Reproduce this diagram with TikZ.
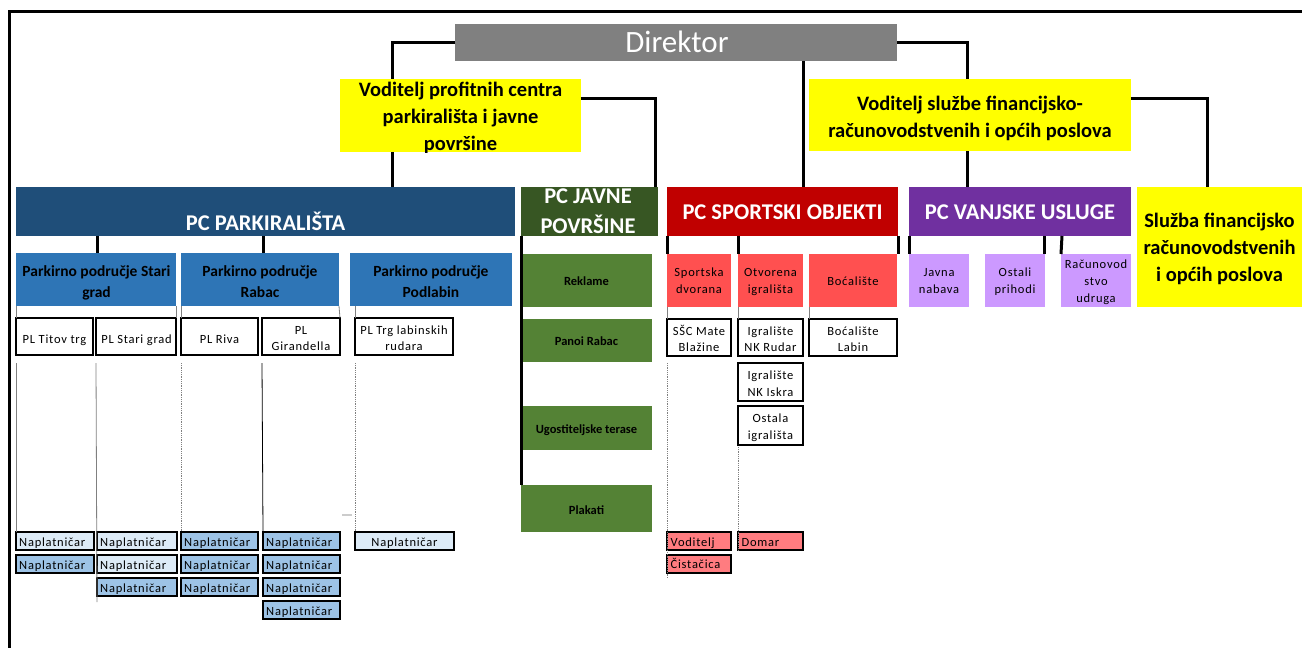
\documentclass[tikz,border=0pt]{standalone}
\usepackage{fontspec}
\setmainfont{Carlito}
\newfontfamily\lsfont[LetterSpace=6]{Carlito}
\definecolor{dirgray}{HTML}{808080}
\definecolor{yel}{HTML}{FFFF00}
\definecolor{pcblue}{HTML}{1F4E79}
\definecolor{ppblue}{HTML}{2E75B6}
\definecolor{pcgreen}{HTML}{375623}
\definecolor{ltgreen}{HTML}{548235}
\definecolor{pcred}{HTML}{C00000}
\definecolor{sred}{HTML}{FF5050}
\definecolor{lred}{HTML}{FF7C80}
\definecolor{pcpurp}{HTML}{7030A0}
\definecolor{lpurp}{HTML}{CC99FF}
\definecolor{nlight}{HTML}{DDEBF7}
\definecolor{ndark}{HTML}{9DC3E6}
\newcommand\fs[2]{\fontsize{#1}{#2}\selectfont}
\newcommand\bx[6]{\node[boxbase,#2,minimum width={#5-#3},minimum height={#6-#4}] (#1) at (#3,#4) {};}
\newcommand\tx[5][]{\node[txtbase,#1] (#2) at (#3,#4) {#5};}
\newcommand\nap[6]{\bx{#1}{nbox,#2}{#3}{#4}{#5}{#6}\node[naptxt] (#1t) at (#3+3,#4+14.5) {Naplatničar};}
\begin{document}
\begin{tikzpicture}[x=1pt,y=-1pt,
  boxbase/.style={anchor=north west,inner sep=0pt,outer sep=0pt},
  txtbase/.style={anchor=base,inner sep=0pt},
  wbox/.style={fill=white,draw=black,line width=2.2pt},
  nbox/.style={draw=black,line width=1.8pt},
  conn/.style={line width=3pt},
  thinl/.style={line width=0.8pt,gray},
  dotl/.style={line width=0.8pt,gray,densely dotted},
  dirtxt/.style={font=\fs{31}{36},text=white},
  ytxt/.style={font=\bfseries\fs{20.5}{27}},
  pctxt/.style={font=\bfseries\fs{22.5}{27},text=white},
  pptxt/.style={font=\bfseries\fs{15.5}{20}},
  smtxt/.style={font=\lsfont\fs{12.5}{15}},
  grtxt/.style={font=\bfseries\fs{12.5}{15}},
  naptxt/.style={anchor=base west,inner sep=0pt,font=\lsfont\fs{12.5}{15}}
]
\useasboundingbox (0,0) rectangle (1302,648);
\fill[white] (0,0) rectangle (1302,648);
% frame
\draw[line width=3pt] (9,648) -- (9,11) -- (1302,11);

% ---------- level 1/2 boxes
\bx{dir}{fill=dirgray}{455}{24}{897}{61}
\bx{vp}{fill=yel}{340}{79}{581}{152}
\bx{vs}{fill=yel}{809}{79}{1131}{151}
\bx{pcp}{fill=pcblue}{16}{187}{515}{236}
\bx{pcj}{fill=pcgreen}{521}{187}{658}{236}
\bx{pcs}{fill=pcred}{667}{187}{898}{236}
\bx{pcv}{fill=pcpurp}{909}{187}{1131}{236}
\bx{sl}{fill=yel}{1137}{187}{1302}{307}

% ---------- connectors top
\draw[conn] (dir.west) -| (392,0 |- vp.north);
\draw[conn] (392,0 |- vp.south) -- (392,0 |- pcp.north);
\draw[conn] (vp.east |- 0,98) -| (655,0 |- pcj.north);
\draw[conn] (dir.east) -| (967,0 |- vs.north);
\draw[conn] (803,0 |- dir.south) -- (803,0 |- pcs.north);
\draw[conn] (967,0 |- vs.south) -- (967,0 |- pcv.north);
\draw[conn] (vs.east |- 0,98) -| (1207,0 |- sl.north);

% ---------- level 3 boxes
\bx{ps}{fill=ppblue}{16}{253}{176}{306}
\bx{pr}{fill=ppblue}{181}{253}{339}{306}
\bx{pd}{fill=ppblue}{350}{253}{512}{306}
\bx{rek}{fill=ltgreen}{521}{254}{652}{307}
\bx{pan}{fill=ltgreen}{521}{319}{652}{362}
\bx{ugo}{fill=ltgreen}{521}{406}{652}{450}
\bx{plak}{fill=ltgreen}{521}{485}{652}{532}
\bx{sd}{fill=sred}{667}{254}{731}{307}
\bx{oi}{fill=sred}{738}{254}{803}{307}
\bx{boc}{fill=sred}{809}{254}{897}{307}
\bx{jn}{fill=lpurp}{909}{254}{969}{307}
\bx{op}{fill=lpurp}{985}{254}{1045}{307}
\bx{rac}{fill=lpurp}{1061}{254}{1131}{307}

% connectors to level 3
\draw[conn] (97,0 |- pcp.south) -- (97,0 |- ps.north);
\draw[conn] (263,0 |- pcp.south) -- (263,0 |- pr.north);
\draw[conn] (pcj.south west) -- (plak.north west);
\draw[conn] (pcs.south west) -- (sd.north west);
\draw[conn] (738,0 |- pcs.south) -- (oi.north west);
\draw[conn] (pcs.south east) -- (898,0 |- boc.north);
\draw[conn] (pcv.south west) -- (jn.north west);
\draw[conn] (1044,0 |- pcv.south) -- (1044,0 |- op.north);
\draw[conn] (1062,0 |- pcv.south) -- (rac.north west);

% ---------- level 4 boxes
\bx{pltt}{wbox}{16}{318}{93}{355}
\bx{plsg}{wbox}{96}{318}{176}{355}
\bx{plr}{wbox}{181}{318}{258}{355}
\bx{plg}{wbox}{262}{318}{340}{355}
\bx{plt}{wbox}{355}{318}{453}{355}
\bx{ssc}{wbox}{667}{319}{731}{356}
\bx{rud}{wbox}{738}{319}{803}{356}
\bx{bl}{wbox}{809}{319}{897}{356}
\bx{isk}{wbox}{738}{363}{803}{401}
\bx{ost}{wbox}{738}{406}{803}{445}

% thin connectors level 3 -> 4
\draw[thinl] (ps.south west) -- (pltt.north west);
\draw[thinl] (ps.south east) -- (plsg.north east);
\draw[thinl] (pr.south west) -- (plr.north west);
\draw[thinl] (pr.south east) -- (plg.north east);
\draw[thinl] (355,0 |- pd.south) -- (plt.north west);
\draw[thinl] (sd.south west) -- (ssc.north west);
\draw[thinl] (oi.south west) -- (rud.north west);
\draw[thinl] (boc.south west) -- (bl.north west);

% ---------- Naplatničar boxes
\nap{n11}{fill=nlight}{16}{532}{94}{550}
\nap{n12}{fill=ndark}{16}{555}{94}{573}
\nap{n21}{fill=nlight}{97}{532}{177}{550}
\nap{n22}{fill=nlight}{97}{555}{177}{573}
\nap{n23}{fill=ndark}{97}{578}{177}{596}
\nap{n31}{fill=ndark}{181}{532}{258}{550}
\nap{n32}{fill=ndark}{181}{555}{258}{573}
\nap{n33}{fill=ndark}{181}{578}{258}{596}
\nap{n41}{fill=ndark}{263}{532}{340}{550}
\nap{n42}{fill=ndark}{263}{555}{340}{573}
\nap{n43}{fill=ndark}{263}{578}{340}{596}
\nap{n44}{fill=ndark}{263}{601}{340}{619}
\bx{n51}{nbox,fill=nlight}{355}{532}{454}{550}
\tx[smtxt]{n51t}{404.5}{546.5}{Naplatničar}
\bx{vod}{nbox,fill=lred}{667}{532}{731}{550}
\bx{cist}{nbox,fill=lred}{667}{555}{731}{573}
\bx{dom}{nbox,fill=lred}{738}{532}{803}{550}
\node[naptxt] (vodt) at (670.5,546.5) {Voditelj};
\node[naptxt] (cistt) at (670.5,568.5) {Čistačica};
\node[naptxt] (domt) at (741.5,546.5) {Domar};

% long thin lines
\draw[thinl] ([yshift=-8pt]pltt.south west) -- (n11.north west);
\draw[thinl] ([yshift=-8pt]plsg.south west) -- ([yshift=-6pt]n23.south west);
\draw[dotl] ([yshift=-8pt]plr.south west) -- (n31.north west);
\draw[line width=0.8pt] ([yshift=-8pt]plg.south west) -- (n41.north west);
\draw[dotl] ([yshift=-8pt]plt.south west) -- (n51.north west);
\draw[dotl] ([yshift=-7pt]ssc.south west) -- ([yshift=-5pt]cist.south west);
\draw[dotl] ([yshift=-2pt]ost.south west) -- (dom.south west);
\draw[line width=1.5pt,black!20] (342,515) -- (352,515);

% ---------- texts
\tx[dirtxt]{dirt}{677}{52}{Direktor}
\begin{scope}
\clip (vp.north west) rectangle (vp.south east);
\tx[ytxt]{vpt1}{460.5}{96}{Voditelj profitnih centra}
\tx[ytxt]{vpt2}{460.5}{123}{parkirališta i javne}
\tx[ytxt]{vpt3}{460.5}{150}{površine}
\end{scope}
\tx[ytxt]{vst1}{970}{110}{Voditelj službe financijsko-}
\tx[ytxt]{vst2}{970}{137}{računovodstvenih i općih poslova}
\tx[pctxt]{pcpt}{265.5}{230.5}{PC PARKIRALIŠTA}
\tx[pctxt]{pcjt1}{588}{203.5}{PC JAVNE}
\tx[pctxt]{pcjt2}{588}{233}{POVRŠINE}
\tx[pctxt]{pcst}{782.5}{219.3}{PC SPORTSKI OBJEKTI}
\tx[pctxt]{pcvt}{1020}{219.3}{PC VANJSKE USLUGE}
\tx[ytxt]{slt1}{1219.5}{227}{Služba financijsko}
\tx[ytxt]{slt2}{1219.5}{254}{računovodstvenih}
\tx[ytxt]{slt3}{1219.5}{281}{i općih poslova}
\tx[pptxt]{pst1}{96.5}{276}{Parkirno područje Stari}
\tx[pptxt]{pst2}{96.5}{297.7}{grad}
\tx[pptxt]{prt1}{260}{276}{Parkirno područje}
\tx[pptxt]{prt2}{260}{297.7}{Rabac}
\tx[pptxt]{pdt1}{431}{276}{Parkirno područje}
\tx[pptxt]{pdt2}{431}{297.7}{Podlabin}
\tx[grtxt]{rekt}{586.5}{285}{Reklame}
\tx[grtxt]{pant}{586.5}{345.7}{Panoi Rabac}
\tx[grtxt]{ugot}{586.5}{433.3}{Ugostiteljske terase}
\tx[grtxt]{plakt}{586.5}{514}{Plakati}
\tx[smtxt]{sdt1}{699}{276.7}{Sportska}
\tx[smtxt]{sdt2}{699}{293.3}{dvorana}
\tx[smtxt]{oit1}{770.5}{276.7}{Otvorena}
\tx[smtxt]{oit2}{770.5}{293.3}{igrališta}
\tx[smtxt]{boct}{853}{285}{Boćalište}
\tx[smtxt]{jnt1}{939}{276.7}{Javna}
\tx[smtxt]{jnt2}{939}{293.3}{nabava}
\tx[smtxt]{opt1}{1015}{276.7}{Ostali}
\tx[smtxt]{opt2}{1015}{293.3}{prihodi}
\tx[smtxt]{ract1}{1096}{268.3}{Računovod}
\tx[smtxt]{ract2}{1096}{285.5}{stvo}
\tx[smtxt]{ract3}{1096}{302.5}{udruga}
\tx[smtxt]{plttt}{54.5}{343.5}{PL Titov trg}
\tx[smtxt]{plsgt}{136.5}{343.5}{PL Stari grad}
\tx[smtxt]{plrt}{219.5}{343.5}{PL Riva}
\tx[smtxt]{plgt1}{301}{334}{PL}
\tx[smtxt]{plgt2}{301}{350.8}{Girandella}
\tx[smtxt]{pltt1}{404}{334}{PL Trg labinskih}
\tx[smtxt]{pltt2}{404}{350.5}{rudara}
\tx[smtxt]{ssct1}{699}{335}{SŠC Mate}
\tx[smtxt]{ssct2}{699}{351.7}{Blažine}
\tx[smtxt]{rudt1}{770.5}{335}{Igralište}
\tx[smtxt]{rudt2}{770.5}{351.7}{NK Rudar}
\tx[smtxt]{blt1}{853}{335}{Boćalište}
\tx[smtxt]{blt2}{853}{351.7}{Labin}
\tx[smtxt]{iskt1}{770.5}{379.3}{Igralište}
\tx[smtxt]{iskt2}{770.5}{396}{NK Iskra}
\tx[smtxt]{ostt1}{770.5}{422.3}{Ostala}
\tx[smtxt]{ostt2}{770.5}{439}{igrališta}
\end{tikzpicture}
\end{document}
